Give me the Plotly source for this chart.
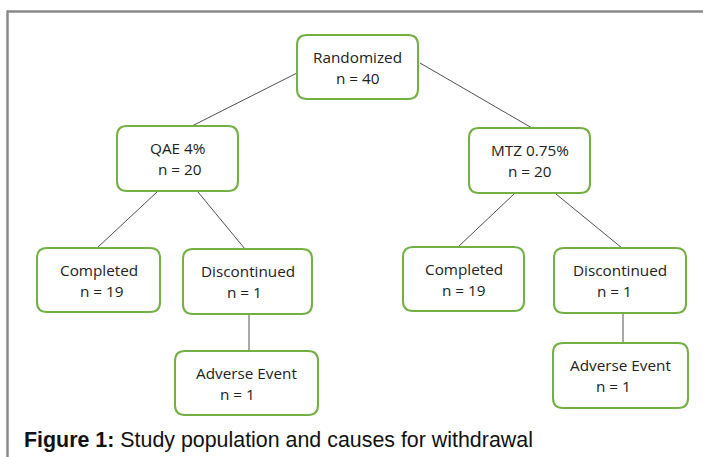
import plotly.graph_objects as go

# ---- data ----
node_titles = ["Randomized", "QAE 4%", "MTZ 0.75%", "Completed", "Discontinued",
               "Completed", "Discontinued", "Adverse Event", "Adverse Event"]
node_counts = [40, 20, 20, 19, 1, 19, 1, 1, 1]
edges = [(0, 1), (0, 2), (1, 3), (1, 4), (2, 5), (2, 6), (4, 7), (6, 8)]
caption_bold = "Figure 1:"
caption_text = " Study population and causes for withdrawal"

# ---- layout geometry (pixel space) ----
W, H = 703, 457
box_x0 = [297, 117, 469, 37, 183, 403, 554, 175, 553]
box_x1 = [418, 238, 590, 160, 312, 524, 686, 318, 688]
box_y0 = [35, 126, 128, 248, 249, 247, 248, 351, 343]
box_y1 = [99, 191, 193, 312, 314, 311, 313, 415, 408]
edge_start = [(297, 73), (420, 63), (157, 192), (198, 192), (514, 194), (556, 194), (249, 314), (623, 313)]
edge_end = [(190, 127), (532, 128), (97, 248), (245, 249), (458, 247), (622, 248), (249, 351), (623, 343)]
line2_dx = [0, 2, 0, 3, -3, 0, -6, -9, -7]

GREEN = "#72b043"
FONT = "Open Sans"


def rounded_rect(x0, y0, x1, y1, r=10):
    return (f"M {x0+r},{y0} L {x1-r},{y0} Q {x1},{y0} {x1},{y0+r} "
            f"L {x1},{y1-r} Q {x1},{y1} {x1-r},{y1} L {x0+r},{y1} "
            f"Q {x0},{y1} {x0},{y1-r} L {x0},{y0+r} Q {x0},{y0} {x0+r},{y0} Z")


fig = go.Figure()

# connectors
ex, ey = [], []
for (s, e) in zip(edge_start, edge_end):
    ex += [s[0], e[0], None]
    ey += [s[1], e[1], None]
fig.add_trace(go.Scatter(x=ex, y=ey, mode="lines",
                         line=dict(color="#505050", width=1),
                         hoverinfo="skip", showlegend=False))

shapes = []
# outer frame
shapes.append(dict(type="line", x0=7, y0=11.5, x1=W, y1=11.5,
                   line=dict(color="#8a8a8a", width=2.5)))
shapes.append(dict(type="line", x0=7.5, y0=10.5, x1=7.5, y1=H,
                   line=dict(color="#8a8a8a", width=2.5)))

annotations = []
for i, (t, n) in enumerate(zip(node_titles, node_counts)):
    x0, x1, y0, y1 = box_x0[i], box_x1[i], box_y0[i], box_y1[i]
    shapes.append(dict(type="path", path=rounded_rect(x0, y0, x1, y1),
                       line=dict(color=GREEN, width=2), fillcolor="white",
                       layer="above"))
    cx = (x0 + x1) / 2
    cy = (y0 + y1) / 2
    annotations.append(dict(x=cx, y=cy - 10.5, text=t, showarrow=False,
                            xanchor="center", yanchor="middle",
                            font=dict(family=FONT, size=15.3, color="#222222")))
    annotations.append(dict(x=cx + line2_dx[i], y=cy + 10.5, text=f"n = {n}",
                            showarrow=False, xanchor="center", yanchor="middle",
                            font=dict(family=FONT, size=15.3, color="#222222")))

annotations.append(dict(x=22, y=440, text=f"<b>{caption_bold}</b>{caption_text}",
                        showarrow=False, xanchor="left", yanchor="middle",
                        font=dict(family="Liberation Sans, Arial", size=21.4, color="#111111")))

fig.update_layout(
    width=W, height=H, margin=dict(l=0, r=0, t=0, b=0),
    paper_bgcolor="white", plot_bgcolor="white",
    xaxis=dict(range=[0, W], visible=False, fixedrange=True),
    yaxis=dict(range=[H, 0], visible=False, fixedrange=True),
    shapes=shapes, annotations=annotations, showlegend=False,
)

fig.write_html("out.html", config={"displayModeBar": False},
               post_script="document.body.style.margin='0px';document.body.style.overflow='hidden';")
